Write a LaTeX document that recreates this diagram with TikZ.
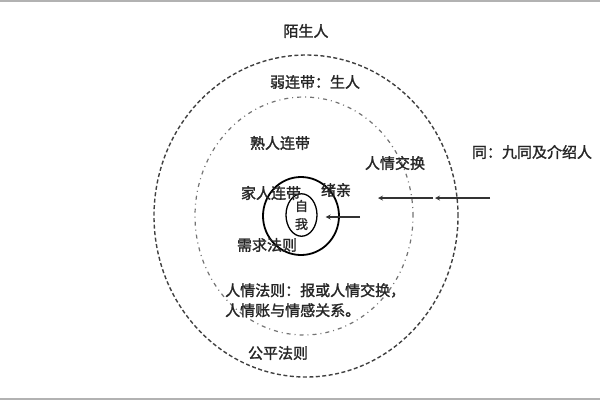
\documentclass[tikz,border=0pt]{standalone}
\usepackage{fontspec}
\newfontfamily\cjk[FakeBold=1.6]{Noto Sans CJK SC}
\usetikzlibrary{shapes.geometric, arrows, positioning}
\tikzstyle{txt} = [font=\cjk\fontsize{15}{20}\selectfont, text=black!85, inner sep=0pt]
\tikzstyle{ring} = [ellipse, draw=black!75, inner sep=0pt]
\tikzstyle{arrow} = [line width=1.2pt,->,>=stealth, draw=black!80]

\begin{document}
\begin{tikzpicture}[x=1pt, y=-1pt]
\useasboundingbox (0,0) rectangle (600,400);
\draw [gray!60, line width=2pt] (0,1) -- (600,1);
\draw [gray!60, line width=2pt] (0,399) -- (600,399);

% circles
\node (outer) [ring, dashed, line width=1.4pt, dash pattern=on 4pt off 2.5pt, minimum width=304, minimum height=322] at (306,216) {};
\node (middle) [ring, line width=1.2pt, dash pattern=on 4pt off 4pt on 1pt off 4pt, draw=black!55, minimum width=218, minimum height=238] at (304,216) {};
\node (family) [ring, line width=1.8pt, draw=black, minimum width=76, minimum height=78] at (301,216) {};
\node (self) [ring, line width=1.3pt, draw=black, minimum width=31, minimum height=36, align=center, txt, font=\cjk\fontsize{13}{18}\selectfont] at (301.5,215) {自\\我};

% texts
\node (stranger) [txt] at (306,31) {陌生人};
\node (weak) [txt] at (315,82) {弱连带：生人};
\node (acq) [txt] at (280,143) {熟人连带};
\node (favor) [txt] at (395,163) {人情交换};
\node (tong) [txt] at (532,152) {同：九同及介绍人};
\node (kin) [txt] at (271,193) {家人连带};
\node (xuqin) [txt] at (336,190) {绪亲};
\node (need) [txt] at (267,245) {需求法则};
\node (renqing) [txt, align=left, anchor=north west] at (225,283) {人情法则：报或人情交换，\\人情账与情感关系。};
\node (fair) [txt] at (278,353) {公平法则};

% arrows
\coordinate (a1) at (490,198);
\coordinate (a2) at (433,198);
\coordinate (a3) at (378,198);
\coordinate (a4) at (360,217);
\draw [arrow] (a1) -- (a2 -| 435,0);
\draw [arrow] (a2) -- (a3);
\draw [arrow] (a4) -- ([xshift=8pt]self.east |- a4);
\end{tikzpicture}
\end{document}
